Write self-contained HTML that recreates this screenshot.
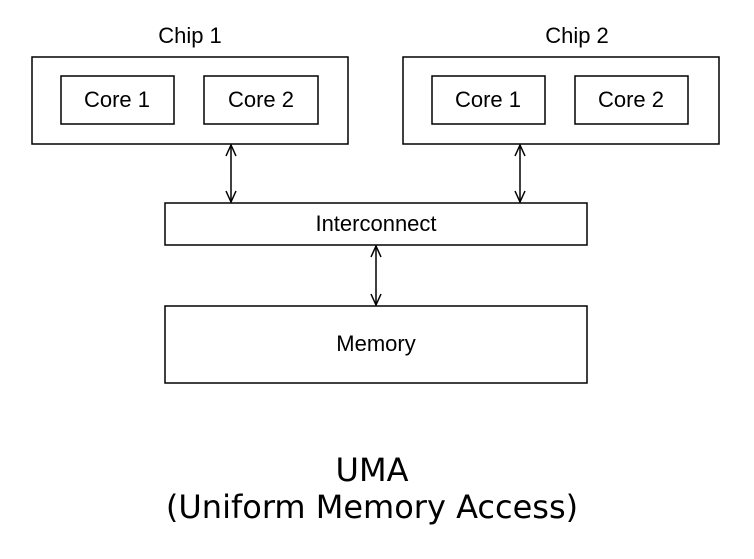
<!DOCTYPE html>
<html><head><style>
body{margin:0;background:#fff;}
</style></head><body>
<svg width="754" height="554" viewBox="0 0 754 554" xmlns="http://www.w3.org/2000/svg">
<g fill="none" stroke="#000" stroke-width="1.5">
<rect x="32" y="57" width="316" height="87"/>
<rect x="61" y="76" width="113" height="48"/>
<rect x="204" y="76" width="114" height="48"/>
<rect x="403" y="57" width="316" height="87"/>
<rect x="432" y="76" width="113" height="48"/>
<rect x="575" y="76" width="113" height="48"/>
<rect x="165" y="203" width="422" height="42"/>
<rect x="165" y="306" width="422" height="77"/>
<line x1="231" y1="145" x2="231" y2="202"/>
<polyline points="226,156 231,145 236,156"/>
<polyline points="226,191 231,202 236,191"/>
<line x1="520" y1="145" x2="520" y2="202"/>
<polyline points="515,156 520,145 525,156"/>
<polyline points="515,191 520,202 525,191"/>
<line x1="376" y1="246" x2="376" y2="305"/>
<polyline points="371,257 376,246 381,257"/>
<polyline points="371,294 376,305 381,294"/>
</g>
<g font-family="Liberation Sans, sans-serif" font-size="22" text-anchor="middle" fill="#000">
<text x="190" y="43">Chip 1</text>
<text x="577" y="43">Chip 2</text>
<text x="117" y="107">Core 1</text>
<text x="261" y="107">Core 2</text>
<text x="488" y="107">Core 1</text>
<text x="631" y="107">Core 2</text>
<text x="376" y="231">Interconnect</text>
<text x="376" y="351">Memory</text>
</g>
<g font-family="DejaVu Sans, sans-serif" font-size="32" text-anchor="middle" fill="#000">
<text x="372" y="481">UMA</text>
<text x="372" y="518">(Uniform Memory Access)</text>
</g>
</svg>
</body></html>
